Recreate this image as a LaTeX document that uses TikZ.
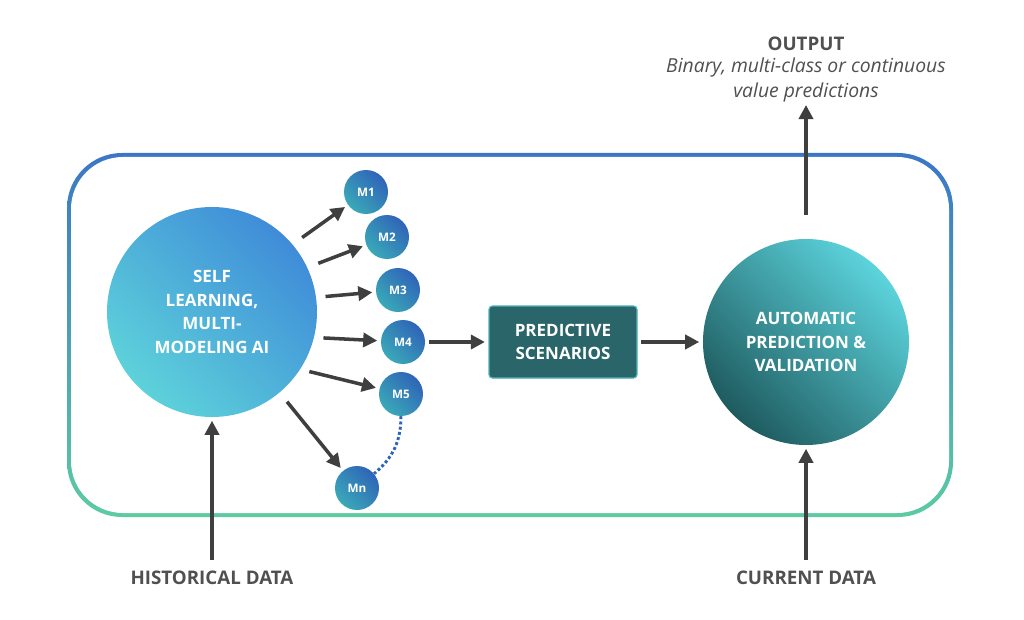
\documentclass[tikz,border=0pt]{standalone}
\usepackage{fontspec}
\setmainfont{Open Sans}
\usetikzlibrary{arrows.meta,positioning}
\definecolor{txtgray}{HTML}{505050}
\definecolor{arrgray}{HTML}{3F3F3F}
\definecolor{boxblue}{HTML}{3B77C6}
\definecolor{boxgreen}{HTML}{5CCBA2}
\definecolor{ailight}{HTML}{5DD2DA}
\definecolor{aiblue}{HTML}{3F8CD8}
\definecolor{mteal}{HTML}{3AA9B8}
\definecolor{mblue}{HTML}{2F64B8}
\definecolor{scen}{HTML}{2A6569}
\definecolor{valdark}{HTML}{1E5B5F}
\definecolor{vallight}{HTML}{5CD3DC}

\begin{document}
\begin{tikzpicture}[
    x=0.03cm, y=-0.03cm,
    >={Triangle[length=12pt,width=12pt]},
    big_style/.style={
        circle,
        minimum size=210*0.03cm,
        inner sep=0pt,
        align=center,
        text=white,
        font=\bfseries\fontsize{14.5}{20}\selectfont
    },
    m_style/.style={
        circle,
        minimum size=44*0.03cm,
        inner sep=0pt,
        text=white,
        font=\bfseries\fontsize{10}{11}\selectfont,
        shading=axis,
        left color=mteal,
        right color=mblue,
        shading angle=135
    },
    arrow_style/.style={
        ->,
        draw=arrgray,
        line width=3pt,
        shorten >=3pt
    },
    label_style/.style={
        text=txtgray,
        font=\bfseries\fontsize{16}{20}\selectfont
    }
]
\useasboundingbox (0,0) rectangle (1024,620);

% --- Frame ---
\shade[top color=boxblue, bottom color=boxgreen, rounded corners=55*0.03cm]
    (67,153) rectangle (953,517);
\fill[white, rounded corners=52*0.03cm] (71,157) rectangle (949,513);

% --- Nodes ---
\node[big_style, shading=axis, left color=ailight, right color=aiblue, shading angle=135]
    (AI) at (212,312) {SELF\\LEARNING,\\MULTI-\\MODELING AI};

\node[m_style] (M1) at (366,192) {M1};
\node[m_style] (M2) at (387,237) {M2};
\node[m_style] (M3) at (398,290) {M3};
\node[m_style] (M4) at (403,342) {M4};
\node[m_style] (M5) at (401,394) {M5};
\node[m_style] (Mn) at (357,488) {Mn};

\node[draw=vallight!70!scen, line width=1pt, fill=scen, rounded corners=3pt,
      minimum width=148*0.03cm, minimum height=72*0.03cm, align=center,
      text=white, font=\bfseries\fontsize{14.5}{20}\selectfont]
    (PS) at (563,342) {PREDICTIVE\\SCENARIOS};

\node[big_style, minimum size=206*0.03cm, shading=axis, left color=valdark, right color=vallight, shading angle=135]
    (VAL) at (806,342) {AUTOMATIC\\PREDICTION \&\\VALIDATION};

% Labels
\node[label_style] (HIST) at (212,578) {HISTORICAL DATA};
\node[label_style] (CUR) at (806,578) {CURRENT DATA};
\node[label_style] (OUT) at (806,44) {OUTPUT};
\node[text=txtgray, font=\itshape\fontsize{16.5}{21.5}\selectfont, align=center, below=-1pt of OUT]
    (DESC) {Binary, multi-class or continuous\\value predictions};

\coordinate (HistTop) at (212,560);
\coordinate (CurTop) at (806,560);
\coordinate (OutBase) at (806,215);
\coordinate (OutTip) at (806,105);

% --- Edges ---
\draw[arrow_style, shorten <=10pt] (AI.40) -- (M1);
\draw[arrow_style, shorten <=10pt] (AI.25) -- (M2);
\draw[arrow_style, shorten <=8pt] (AI.8) -- (M3);
\draw[arrow_style, shorten <=8pt] (AI.-14) -- (M4);
\draw[arrow_style, shorten <=8pt] (AI.-33) -- (M5);
\draw[arrow_style, shorten <=10pt] (AI.-50) -- (Mn);
\draw[mblue, line width=2.5pt, dotted] (M5) to[bend left=25] (Mn);

\draw[arrow_style, shorten <=3pt] (M4) -- (PS);
\draw[arrow_style, shorten <=3pt] (PS) -- (VAL);
\draw[arrow_style, shorten >=0pt] (OutBase) -- (OutTip);
\draw[arrow_style] (HistTop) -- (AI);
\draw[arrow_style] (CurTop) -- (VAL);

\end{tikzpicture}
\end{document}
